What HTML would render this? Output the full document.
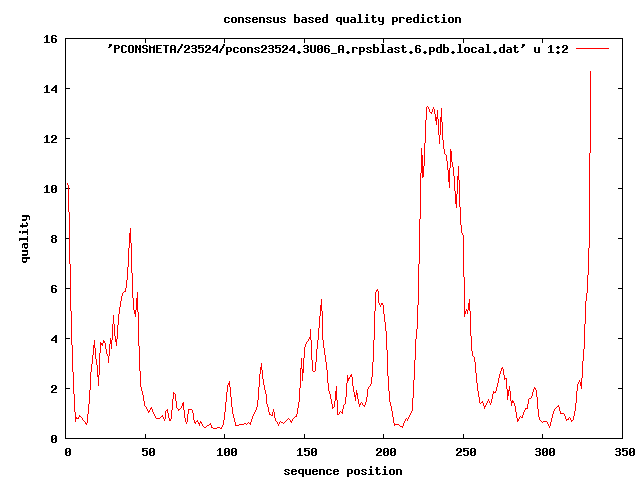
<!DOCTYPE html>
<html><head><meta charset="utf-8"><style>
html,body{margin:0;padding:0;background:#fff;width:640px;height:480px;overflow:hidden}
svg{display:block}
</style></head><body>
<svg width="640" height="480" viewBox="0 0 640 480" shape-rendering="crispEdges">
<rect width="640" height="480" fill="#fff"/>
<path fill="#000" d="M19 231h1v2h-1zM19 238h1v3h-1zM20 225h1v2h-1zM20 231h1v2h-1zM20 238h1v2h-1zM21 225h1v2h-1zM21 238h1v2h-1zM22 215h1v2h-1zM22 219h1v2h-1zM22 223h1v5h-1zM22 231h1v3h-1zM22 238h1v2h-1zM22 244h1v4h-1zM22 250h1v2h-1zM22 254h1v2h-1zM22 257h1v5h-1zM23 215h1v2h-1zM23 219h1v2h-1zM23 225h1v2h-1zM23 231h1v2h-1zM23 238h1v2h-1zM23 243h1v2h-1zM23 250h1v2h-1zM23 254h1v2h-1zM23 257h1v2h-1zM23 261h1v2h-1zM24 215h1v2h-1zM24 219h1v2h-1zM24 225h1v2h-1zM24 231h1v2h-1zM24 238h1v2h-1zM24 243h1v5h-1zM24 250h1v2h-1zM24 254h1v2h-1zM24 257h1v2h-1zM24 261h1v2h-1zM25 215h1v2h-1zM25 219h1v2h-1zM25 225h1v2h-1zM25 231h1v2h-1zM25 238h1v2h-1zM25 243h1v2h-1zM25 247h1v2h-1zM25 250h1v2h-1zM25 254h1v2h-1zM25 257h1v2h-1zM25 261h1v2h-1zM26 215h1v5h-1zM26 222h1v2h-1zM26 225h1v2h-1zM26 231h1v2h-1zM26 238h1v2h-1zM26 243h1v2h-1zM26 247h1v2h-1zM26 250h1v2h-1zM26 254h1v2h-1zM26 257h1v5h-1zM27 215h1v2h-1zM27 223h1v3h-1zM27 229h1v6h-1zM27 236h1v6h-1zM27 243h1v5h-1zM27 250h1v5h-1zM27 257h1v2h-1zM28 215h1v2h-1zM28 257h1v2h-1zM29 216h1v4h-1zM29 257h1v2h-1zM44 37h1v1h-1zM44 42h1v1h-1zM44 87h1v1h-1zM44 92h1v1h-1zM44 137h1v1h-1zM44 142h1v1h-1zM44 187h1v1h-1zM44 192h1v1h-1zM45 36h1v1h-1zM45 42h1v1h-1zM45 86h1v1h-1zM45 92h1v1h-1zM45 136h1v1h-1zM45 142h1v1h-1zM45 186h1v1h-1zM45 192h1v1h-1zM46 35h1v8h-1zM46 85h1v8h-1zM46 135h1v8h-1zM46 185h1v8h-1zM47 35h1v8h-1zM47 85h1v8h-1zM47 135h1v8h-1zM47 185h1v8h-1zM48 42h1v1h-1zM48 92h1v1h-1zM48 142h1v1h-1zM48 192h1v1h-1zM49 42h1v1h-1zM49 92h1v1h-1zM49 142h1v1h-1zM49 192h1v1h-1zM51 36h1v6h-1zM51 89h1v2h-1zM51 136h1v2h-1zM51 141h1v2h-1zM51 186h1v6h-1zM51 236h1v2h-1zM51 239h1v3h-1zM51 286h1v6h-1zM51 339h1v2h-1zM51 386h1v2h-1zM51 391h1v2h-1zM51 436h1v6h-1zM52 35h1v8h-1zM52 88h1v3h-1zM52 135h1v3h-1zM52 140h1v3h-1zM52 185h1v8h-1zM52 235h1v8h-1zM52 285h1v8h-1zM52 338h1v3h-1zM52 385h1v3h-1zM52 390h1v3h-1zM52 435h1v8h-1zM53 35h1v1h-1zM53 38h1v1h-1zM53 42h1v1h-1zM53 87h1v2h-1zM53 90h1v1h-1zM53 135h1v1h-1zM53 139h1v2h-1zM53 142h1v1h-1zM53 185h1v1h-1zM53 189h1v1h-1zM53 192h1v1h-1zM53 235h1v1h-1zM53 238h1v1h-1zM53 242h1v1h-1zM53 285h1v1h-1zM53 288h1v1h-1zM53 292h1v1h-1zM53 337h1v2h-1zM53 340h1v1h-1zM53 385h1v1h-1zM53 389h1v2h-1zM53 392h1v1h-1zM53 435h1v1h-1zM53 439h1v1h-1zM53 442h1v1h-1zM54 35h1v1h-1zM54 38h1v1h-1zM54 42h1v1h-1zM54 86h1v2h-1zM54 90h1v1h-1zM54 135h1v1h-1zM54 138h1v2h-1zM54 142h1v1h-1zM54 185h1v1h-1zM54 188h1v1h-1zM54 192h1v1h-1zM54 235h1v1h-1zM54 238h1v1h-1zM54 242h1v1h-1zM54 285h1v1h-1zM54 288h1v1h-1zM54 292h1v1h-1zM54 336h1v2h-1zM54 340h1v1h-1zM54 385h1v1h-1zM54 388h1v2h-1zM54 392h1v1h-1zM54 435h1v1h-1zM54 438h1v1h-1zM54 442h1v1h-1zM55 35h1v2h-1zM55 38h1v5h-1zM55 85h1v8h-1zM55 135h1v5h-1zM55 142h1v1h-1zM55 185h1v8h-1zM55 235h1v8h-1zM55 285h1v2h-1zM55 288h1v5h-1zM55 335h1v8h-1zM55 385h1v5h-1zM55 392h1v1h-1zM55 435h1v8h-1zM56 36h1v1h-1zM56 39h1v3h-1zM56 85h1v8h-1zM56 136h1v3h-1zM56 142h1v1h-1zM56 186h1v6h-1zM56 236h1v2h-1zM56 239h1v3h-1zM56 286h1v1h-1zM56 289h1v3h-1zM56 335h1v8h-1zM56 386h1v3h-1zM56 392h1v1h-1zM56 436h1v6h-1zM65 38h1v401h-1zM65 449h1v6h-1zM66 38h1v1h-1zM66 88h1v1h-1zM66 138h1v1h-1zM66 188h1v1h-1zM66 238h1v1h-1zM66 288h1v1h-1zM66 338h1v1h-1zM66 388h1v1h-1zM66 438h1v1h-1zM66 448h1v8h-1zM67 38h1v1h-1zM67 88h1v1h-1zM67 138h1v1h-1zM67 188h1v1h-1zM67 238h1v1h-1zM67 288h1v1h-1zM67 338h1v1h-1zM67 388h1v1h-1zM67 438h1v1h-1zM67 448h1v1h-1zM67 452h1v1h-1zM67 455h1v1h-1zM68 38h1v1h-1zM68 88h1v1h-1zM68 138h1v1h-1zM68 188h1v1h-1zM68 238h1v1h-1zM68 288h1v1h-1zM68 338h1v1h-1zM68 388h1v1h-1zM68 438h1v1h-1zM68 448h1v1h-1zM68 451h1v1h-1zM68 455h1v1h-1zM69 38h1v1h-1zM69 88h1v1h-1zM69 138h1v1h-1zM69 188h1v1h-1zM69 238h1v1h-1zM69 288h1v1h-1zM69 338h1v1h-1zM69 388h1v1h-1zM69 438h1v1h-1zM69 448h1v8h-1zM70 38h1v1h-1zM70 438h1v1h-1zM70 449h1v6h-1zM71 38h1v1h-1zM71 438h1v1h-1zM72 38h1v1h-1zM72 438h1v1h-1zM73 38h1v1h-1zM73 438h1v1h-1zM74 38h1v1h-1zM74 438h1v1h-1zM75 38h1v1h-1zM75 438h1v1h-1zM76 38h1v1h-1zM76 438h1v1h-1zM77 38h1v1h-1zM77 438h1v1h-1zM78 38h1v1h-1zM78 438h1v1h-1zM79 38h1v1h-1zM79 438h1v1h-1zM80 38h1v1h-1zM80 438h1v1h-1zM81 38h1v1h-1zM81 438h1v1h-1zM82 38h1v1h-1zM82 438h1v1h-1zM83 38h1v1h-1zM83 438h1v1h-1zM84 38h1v1h-1zM84 438h1v1h-1zM85 38h1v1h-1zM85 438h1v1h-1zM86 38h1v1h-1zM86 438h1v1h-1zM87 38h1v1h-1zM87 438h1v1h-1zM88 38h1v1h-1zM88 438h1v1h-1zM89 38h1v1h-1zM89 438h1v1h-1zM90 38h1v1h-1zM90 438h1v1h-1zM91 38h1v1h-1zM91 438h1v1h-1zM92 38h1v1h-1zM92 438h1v1h-1zM93 38h1v1h-1zM93 438h1v1h-1zM94 38h1v1h-1zM94 438h1v1h-1zM95 38h1v1h-1zM95 438h1v1h-1zM96 38h1v1h-1zM96 438h1v1h-1zM97 38h1v1h-1zM97 438h1v1h-1zM98 38h1v1h-1zM98 438h1v1h-1zM99 38h1v1h-1zM99 438h1v1h-1zM100 38h1v1h-1zM100 438h1v1h-1zM101 38h1v1h-1zM101 438h1v1h-1zM102 38h1v1h-1zM102 438h1v1h-1zM103 38h1v1h-1zM103 438h1v1h-1zM104 38h1v1h-1zM104 438h1v1h-1zM105 38h1v1h-1zM105 438h1v1h-1zM106 38h1v1h-1zM106 438h1v1h-1zM107 38h1v1h-1zM107 438h1v1h-1zM108 38h1v1h-1zM108 47h1v1h-1zM108 438h1v1h-1zM109 38h1v1h-1zM109 44h1v4h-1zM109 438h1v1h-1zM110 38h1v1h-1zM110 44h1v3h-1zM110 438h1v1h-1zM111 38h1v1h-1zM111 44h1v2h-1zM111 438h1v1h-1zM112 38h1v1h-1zM112 438h1v1h-1zM113 38h1v1h-1zM113 438h1v1h-1zM114 38h1v1h-1zM114 45h1v8h-1zM114 438h1v1h-1zM115 38h1v1h-1zM115 45h1v8h-1zM115 438h1v1h-1zM116 38h1v1h-1zM116 45h1v1h-1zM116 48h1v1h-1zM116 438h1v1h-1zM117 38h1v1h-1zM117 45h1v1h-1zM117 48h1v1h-1zM117 438h1v1h-1zM118 38h1v1h-1zM118 45h1v4h-1zM118 438h1v1h-1zM119 38h1v1h-1zM119 46h1v2h-1zM119 438h1v1h-1zM120 38h1v1h-1zM120 438h1v1h-1zM121 38h1v1h-1zM121 46h1v6h-1zM121 438h1v1h-1zM122 38h1v1h-1zM122 45h1v8h-1zM122 438h1v1h-1zM123 38h1v1h-1zM123 45h1v1h-1zM123 52h1v1h-1zM123 438h1v1h-1zM124 38h1v1h-1zM124 45h1v1h-1zM124 52h1v1h-1zM124 438h1v1h-1zM125 38h1v1h-1zM125 45h1v2h-1zM125 51h1v2h-1zM125 438h1v1h-1zM126 38h1v1h-1zM126 46h1v1h-1zM126 51h1v1h-1zM126 438h1v1h-1zM127 38h1v1h-1zM127 438h1v1h-1zM128 38h1v1h-1zM128 46h1v6h-1zM128 438h1v1h-1zM129 38h1v1h-1zM129 45h1v8h-1zM129 438h1v1h-1zM130 38h1v1h-1zM130 45h1v1h-1zM130 52h1v1h-1zM130 438h1v1h-1zM131 38h1v1h-1zM131 45h1v1h-1zM131 52h1v1h-1zM131 438h1v1h-1zM132 38h1v1h-1zM132 45h1v8h-1zM132 438h1v1h-1zM133 38h1v1h-1zM133 46h1v6h-1zM133 438h1v1h-1zM134 38h1v1h-1zM134 438h1v1h-1zM135 38h1v1h-1zM135 45h1v8h-1zM135 438h1v1h-1zM136 38h1v1h-1zM136 45h1v8h-1zM136 438h1v1h-1zM137 38h1v1h-1zM137 46h1v2h-1zM137 438h1v1h-1zM138 38h1v1h-1zM138 48h1v2h-1zM138 438h1v1h-1zM139 38h1v1h-1zM139 45h1v8h-1zM139 438h1v1h-1zM140 38h1v1h-1zM140 45h1v8h-1zM140 438h1v1h-1zM141 38h1v1h-1zM141 438h1v1h-1zM142 38h1v1h-1zM142 46h1v2h-1zM142 51h1v1h-1zM142 438h1v1h-1zM142 448h1v4h-1zM142 454h1v1h-1zM143 38h1v1h-1zM143 45h1v4h-1zM143 51h1v2h-1zM143 438h1v1h-1zM143 448h1v4h-1zM143 454h1v2h-1zM144 38h1v1h-1zM144 45h1v1h-1zM144 48h1v1h-1zM144 52h1v1h-1zM144 438h1v1h-1zM144 448h1v1h-1zM144 450h1v1h-1zM144 455h1v1h-1zM145 38h1v5h-1zM145 45h1v1h-1zM145 48h1v1h-1zM145 52h1v1h-1zM145 434h1v5h-1zM145 448h1v1h-1zM145 450h1v1h-1zM145 455h1v1h-1zM146 38h1v1h-1zM146 45h1v2h-1zM146 48h1v5h-1zM146 438h1v1h-1zM146 448h1v1h-1zM146 450h1v6h-1zM147 38h1v1h-1zM147 46h1v1h-1zM147 49h1v3h-1zM147 438h1v1h-1zM147 448h1v1h-1zM147 451h1v4h-1zM148 38h1v1h-1zM148 438h1v1h-1zM149 38h1v1h-1zM149 45h1v8h-1zM149 438h1v1h-1zM149 449h1v6h-1zM150 38h1v1h-1zM150 46h1v7h-1zM150 438h1v1h-1zM150 448h1v8h-1zM151 38h1v1h-1zM151 47h1v1h-1zM151 438h1v1h-1zM151 448h1v1h-1zM151 452h1v1h-1zM151 455h1v1h-1zM152 38h1v1h-1zM152 47h1v1h-1zM152 438h1v1h-1zM152 448h1v1h-1zM152 451h1v1h-1zM152 455h1v1h-1zM153 38h1v1h-1zM153 46h1v7h-1zM153 438h1v1h-1zM153 448h1v8h-1zM154 38h1v1h-1zM154 45h1v8h-1zM154 438h1v1h-1zM154 449h1v6h-1zM155 38h1v1h-1zM155 438h1v1h-1zM156 38h1v1h-1zM156 45h1v8h-1zM156 438h1v1h-1zM157 38h1v1h-1zM157 45h1v8h-1zM157 438h1v1h-1zM158 38h1v1h-1zM158 45h1v1h-1zM158 48h1v1h-1zM158 52h1v1h-1zM158 438h1v1h-1zM159 38h1v1h-1zM159 45h1v1h-1zM159 48h1v1h-1zM159 52h1v1h-1zM159 438h1v1h-1zM160 38h1v1h-1zM160 45h1v1h-1zM160 48h1v1h-1zM160 52h1v1h-1zM160 438h1v1h-1zM161 38h1v1h-1zM161 45h1v1h-1zM161 52h1v1h-1zM161 438h1v1h-1zM162 38h1v1h-1zM162 438h1v1h-1zM163 38h1v1h-1zM163 45h1v1h-1zM163 438h1v1h-1zM164 38h1v1h-1zM164 45h1v1h-1zM164 438h1v1h-1zM165 38h1v1h-1zM165 45h1v8h-1zM165 438h1v1h-1zM166 38h1v1h-1zM166 45h1v8h-1zM166 438h1v1h-1zM167 38h1v1h-1zM167 45h1v1h-1zM167 438h1v1h-1zM168 38h1v1h-1zM168 45h1v1h-1zM168 438h1v1h-1zM169 38h1v1h-1zM169 438h1v1h-1zM170 38h1v1h-1zM170 46h1v7h-1zM170 438h1v1h-1zM171 38h1v1h-1zM171 45h1v8h-1zM171 438h1v1h-1zM172 38h1v1h-1zM172 45h1v1h-1zM172 49h1v1h-1zM172 438h1v1h-1zM173 38h1v1h-1zM173 45h1v1h-1zM173 49h1v1h-1zM173 438h1v1h-1zM174 38h1v1h-1zM174 45h1v8h-1zM174 438h1v1h-1zM175 38h1v1h-1zM175 46h1v7h-1zM175 438h1v1h-1zM176 38h1v1h-1zM176 438h1v1h-1zM177 38h1v1h-1zM177 51h1v2h-1zM177 438h1v1h-1zM178 38h1v1h-1zM178 49h1v4h-1zM178 438h1v1h-1zM179 38h1v1h-1zM179 48h1v3h-1zM179 438h1v1h-1zM180 38h1v1h-1zM180 46h1v3h-1zM180 438h1v1h-1zM181 38h1v1h-1zM181 44h1v4h-1zM181 438h1v1h-1zM182 38h1v1h-1zM182 44h1v2h-1zM182 438h1v1h-1zM183 38h1v1h-1zM183 438h1v1h-1zM184 38h1v1h-1zM184 46h1v2h-1zM184 51h1v2h-1zM184 438h1v1h-1zM185 38h1v1h-1zM185 45h1v3h-1zM185 50h1v3h-1zM185 438h1v1h-1zM186 38h1v1h-1zM186 45h1v1h-1zM186 49h1v2h-1zM186 52h1v1h-1zM186 438h1v1h-1zM187 38h1v1h-1zM187 45h1v1h-1zM187 48h1v2h-1zM187 52h1v1h-1zM187 438h1v1h-1zM188 38h1v1h-1zM188 45h1v5h-1zM188 52h1v1h-1zM188 438h1v1h-1zM189 38h1v1h-1zM189 46h1v3h-1zM189 52h1v1h-1zM189 438h1v1h-1zM190 38h1v1h-1zM190 438h1v1h-1zM191 38h1v1h-1zM191 46h1v1h-1zM191 51h1v1h-1zM191 438h1v1h-1zM192 38h1v1h-1zM192 45h1v2h-1zM192 48h1v1h-1zM192 51h1v2h-1zM192 438h1v1h-1zM193 38h1v1h-1zM193 45h1v1h-1zM193 48h1v1h-1zM193 52h1v1h-1zM193 438h1v1h-1zM194 38h1v1h-1zM194 45h1v1h-1zM194 48h1v1h-1zM194 52h1v1h-1zM194 438h1v1h-1zM195 38h1v1h-1zM195 45h1v8h-1zM195 438h1v1h-1zM196 38h1v1h-1zM196 46h1v2h-1zM196 49h1v3h-1zM196 438h1v1h-1zM197 38h1v1h-1zM197 438h1v1h-1zM198 38h1v1h-1zM198 45h1v4h-1zM198 51h1v1h-1zM198 438h1v1h-1zM199 38h1v1h-1zM199 45h1v4h-1zM199 51h1v2h-1zM199 438h1v1h-1zM200 38h1v1h-1zM200 45h1v1h-1zM200 47h1v1h-1zM200 52h1v1h-1zM200 438h1v1h-1zM201 38h1v1h-1zM201 45h1v1h-1zM201 47h1v1h-1zM201 52h1v1h-1zM201 438h1v1h-1zM202 38h1v1h-1zM202 45h1v1h-1zM202 47h1v6h-1zM202 438h1v1h-1zM203 38h1v1h-1zM203 45h1v1h-1zM203 48h1v4h-1zM203 438h1v1h-1zM204 38h1v1h-1zM204 438h1v1h-1zM205 38h1v1h-1zM205 46h1v2h-1zM205 51h1v2h-1zM205 438h1v1h-1zM206 38h1v1h-1zM206 45h1v3h-1zM206 50h1v3h-1zM206 438h1v1h-1zM207 38h1v1h-1zM207 45h1v1h-1zM207 49h1v2h-1zM207 52h1v1h-1zM207 438h1v1h-1zM208 38h1v1h-1zM208 45h1v1h-1zM208 48h1v2h-1zM208 52h1v1h-1zM208 438h1v1h-1zM209 38h1v1h-1zM209 45h1v5h-1zM209 52h1v1h-1zM209 438h1v1h-1zM210 38h1v1h-1zM210 46h1v3h-1zM210 52h1v1h-1zM210 438h1v1h-1zM211 38h1v1h-1zM211 438h1v1h-1zM212 38h1v1h-1zM212 49h1v2h-1zM212 438h1v1h-1zM213 38h1v1h-1zM213 48h1v3h-1zM213 438h1v1h-1zM214 38h1v1h-1zM214 47h1v2h-1zM214 50h1v1h-1zM214 438h1v1h-1zM215 38h1v1h-1zM215 46h1v2h-1zM215 50h1v1h-1zM215 438h1v1h-1zM216 38h1v1h-1zM216 45h1v8h-1zM216 438h1v1h-1zM217 38h1v1h-1zM217 45h1v8h-1zM217 438h1v1h-1zM217 450h1v1h-1zM217 455h1v1h-1zM218 38h1v1h-1zM218 438h1v1h-1zM218 449h1v1h-1zM218 455h1v1h-1zM219 38h1v1h-1zM219 51h1v2h-1zM219 438h1v1h-1zM219 448h1v8h-1zM220 38h1v1h-1zM220 49h1v4h-1zM220 438h1v1h-1zM220 448h1v8h-1zM221 38h1v1h-1zM221 48h1v3h-1zM221 438h1v1h-1zM221 455h1v1h-1zM222 38h1v1h-1zM222 46h1v3h-1zM222 438h1v1h-1zM222 455h1v1h-1zM223 38h1v1h-1zM223 44h1v4h-1zM223 438h1v1h-1zM224 18h1v4h-1zM224 38h1v5h-1zM224 44h1v2h-1zM224 434h1v5h-1zM224 449h1v6h-1zM225 17h1v6h-1zM225 38h1v1h-1zM225 438h1v1h-1zM225 448h1v8h-1zM226 17h1v1h-1zM226 22h1v1h-1zM226 38h1v1h-1zM226 47h1v8h-1zM226 438h1v1h-1zM226 448h1v1h-1zM226 452h1v1h-1zM226 455h1v1h-1zM227 17h1v1h-1zM227 22h1v1h-1zM227 38h1v1h-1zM227 47h1v8h-1zM227 438h1v1h-1zM227 448h1v1h-1zM227 451h1v1h-1zM227 455h1v1h-1zM228 17h1v2h-1zM228 21h1v2h-1zM228 38h1v1h-1zM228 47h1v1h-1zM228 51h1v1h-1zM228 438h1v1h-1zM228 448h1v8h-1zM229 18h1v1h-1zM229 21h1v1h-1zM229 38h1v1h-1zM229 47h1v1h-1zM229 51h1v1h-1zM229 438h1v1h-1zM229 449h1v6h-1zM230 38h1v1h-1zM230 47h1v5h-1zM230 438h1v1h-1zM231 18h1v4h-1zM231 38h1v1h-1zM231 48h1v3h-1zM231 438h1v1h-1zM231 449h1v6h-1zM232 17h1v6h-1zM232 38h1v1h-1zM232 438h1v1h-1zM232 448h1v8h-1zM233 17h1v1h-1zM233 22h1v1h-1zM233 38h1v1h-1zM233 48h1v4h-1zM233 438h1v1h-1zM233 448h1v1h-1zM233 452h1v1h-1zM233 455h1v1h-1zM234 17h1v1h-1zM234 22h1v1h-1zM234 38h1v1h-1zM234 47h1v6h-1zM234 438h1v1h-1zM234 448h1v1h-1zM234 451h1v1h-1zM234 455h1v1h-1zM235 17h1v6h-1zM235 38h1v1h-1zM235 47h1v1h-1zM235 52h1v1h-1zM235 438h1v1h-1zM235 448h1v8h-1zM236 18h1v4h-1zM236 38h1v1h-1zM236 47h1v1h-1zM236 52h1v1h-1zM236 438h1v1h-1zM236 449h1v6h-1zM237 38h1v1h-1zM237 47h1v2h-1zM237 51h1v2h-1zM237 438h1v1h-1zM238 17h1v6h-1zM238 38h1v1h-1zM238 48h1v1h-1zM238 51h1v1h-1zM238 438h1v1h-1zM239 17h1v6h-1zM239 38h1v1h-1zM239 438h1v1h-1zM240 17h1v1h-1zM240 38h1v1h-1zM240 48h1v4h-1zM240 438h1v1h-1zM241 17h1v1h-1zM241 38h1v1h-1zM241 47h1v6h-1zM241 438h1v1h-1zM242 17h1v6h-1zM242 38h1v1h-1zM242 47h1v1h-1zM242 52h1v1h-1zM242 438h1v1h-1zM243 18h1v5h-1zM243 38h1v1h-1zM243 47h1v1h-1zM243 52h1v1h-1zM243 438h1v1h-1zM244 38h1v1h-1zM244 47h1v6h-1zM244 438h1v1h-1zM245 18h1v1h-1zM245 21h1v1h-1zM245 38h1v1h-1zM245 48h1v4h-1zM245 438h1v1h-1zM246 17h1v3h-1zM246 21h1v2h-1zM246 38h1v1h-1zM246 438h1v1h-1zM247 17h1v1h-1zM247 19h1v1h-1zM247 22h1v1h-1zM247 38h1v1h-1zM247 47h1v6h-1zM247 438h1v1h-1zM248 17h1v1h-1zM248 20h1v1h-1zM248 22h1v1h-1zM248 38h1v1h-1zM248 47h1v6h-1zM248 438h1v1h-1zM249 17h1v2h-1zM249 20h1v3h-1zM249 38h1v1h-1zM249 47h1v1h-1zM249 438h1v1h-1zM250 18h1v1h-1zM250 21h1v1h-1zM250 38h1v1h-1zM250 47h1v1h-1zM250 438h1v1h-1zM251 38h1v1h-1zM251 47h1v6h-1zM251 438h1v1h-1zM252 18h1v4h-1zM252 38h1v1h-1zM252 48h1v5h-1zM252 438h1v1h-1zM253 17h1v6h-1zM253 38h1v1h-1zM253 438h1v1h-1zM254 17h1v1h-1zM254 19h1v1h-1zM254 22h1v1h-1zM254 38h1v1h-1zM254 48h1v1h-1zM254 51h1v1h-1zM254 438h1v1h-1zM255 17h1v1h-1zM255 19h1v1h-1zM255 22h1v1h-1zM255 38h1v1h-1zM255 47h1v3h-1zM255 51h1v2h-1zM255 438h1v1h-1zM256 17h1v3h-1zM256 21h1v2h-1zM256 38h1v1h-1zM256 47h1v1h-1zM256 49h1v1h-1zM256 52h1v1h-1zM256 438h1v1h-1zM257 18h1v2h-1zM257 21h1v1h-1zM257 38h1v1h-1zM257 47h1v1h-1zM257 50h1v1h-1zM257 52h1v1h-1zM257 438h1v1h-1zM258 38h1v1h-1zM258 47h1v2h-1zM258 50h1v3h-1zM258 438h1v1h-1zM259 17h1v6h-1zM259 38h1v1h-1zM259 48h1v1h-1zM259 51h1v1h-1zM259 438h1v1h-1zM260 17h1v6h-1zM260 38h1v1h-1zM260 438h1v1h-1zM261 17h1v1h-1zM261 38h1v1h-1zM261 46h1v2h-1zM261 51h1v2h-1zM261 438h1v1h-1zM262 17h1v1h-1zM262 38h1v1h-1zM262 45h1v3h-1zM262 50h1v3h-1zM262 438h1v1h-1zM263 17h1v6h-1zM263 38h1v1h-1zM263 45h1v1h-1zM263 49h1v2h-1zM263 52h1v1h-1zM263 438h1v1h-1zM264 18h1v5h-1zM264 38h1v1h-1zM264 45h1v1h-1zM264 48h1v2h-1zM264 52h1v1h-1zM264 438h1v1h-1zM265 38h1v1h-1zM265 45h1v5h-1zM265 52h1v1h-1zM265 438h1v1h-1zM266 18h1v1h-1zM266 21h1v1h-1zM266 38h1v1h-1zM266 46h1v3h-1zM266 52h1v1h-1zM266 438h1v1h-1zM267 17h1v3h-1zM267 21h1v2h-1zM267 38h1v1h-1zM267 438h1v1h-1zM268 17h1v1h-1zM268 19h1v1h-1zM268 22h1v1h-1zM268 38h1v1h-1zM268 46h1v1h-1zM268 51h1v1h-1zM268 438h1v1h-1zM269 17h1v1h-1zM269 20h1v1h-1zM269 22h1v1h-1zM269 38h1v1h-1zM269 45h1v2h-1zM269 48h1v1h-1zM269 51h1v2h-1zM269 438h1v1h-1zM270 17h1v2h-1zM270 20h1v3h-1zM270 38h1v1h-1zM270 45h1v1h-1zM270 48h1v1h-1zM270 52h1v1h-1zM270 438h1v1h-1zM271 18h1v1h-1zM271 21h1v1h-1zM271 38h1v1h-1zM271 45h1v1h-1zM271 48h1v1h-1zM271 52h1v1h-1zM271 438h1v1h-1zM272 38h1v1h-1zM272 45h1v8h-1zM272 438h1v1h-1zM273 17h1v5h-1zM273 38h1v1h-1zM273 46h1v2h-1zM273 49h1v3h-1zM273 438h1v1h-1zM274 17h1v6h-1zM274 38h1v1h-1zM274 438h1v1h-1zM275 22h1v1h-1zM275 38h1v1h-1zM275 45h1v4h-1zM275 51h1v1h-1zM275 438h1v1h-1zM276 22h1v1h-1zM276 38h1v1h-1zM276 45h1v4h-1zM276 51h1v2h-1zM276 438h1v1h-1zM277 17h1v6h-1zM277 38h1v1h-1zM277 45h1v1h-1zM277 47h1v1h-1zM277 52h1v1h-1zM277 438h1v1h-1zM278 17h1v6h-1zM278 38h1v1h-1zM278 45h1v1h-1zM278 47h1v1h-1zM278 52h1v1h-1zM278 438h1v1h-1zM279 38h1v1h-1zM279 45h1v1h-1zM279 47h1v6h-1zM279 438h1v1h-1zM280 18h1v1h-1zM280 21h1v1h-1zM280 38h1v1h-1zM280 45h1v1h-1zM280 48h1v4h-1zM280 438h1v1h-1zM281 17h1v3h-1zM281 21h1v2h-1zM281 38h1v1h-1zM281 438h1v1h-1zM282 17h1v1h-1zM282 19h1v1h-1zM282 22h1v1h-1zM282 38h1v1h-1zM282 46h1v2h-1zM282 51h1v2h-1zM282 438h1v1h-1zM283 17h1v1h-1zM283 20h1v1h-1zM283 22h1v1h-1zM283 38h1v1h-1zM283 45h1v3h-1zM283 50h1v3h-1zM283 438h1v1h-1zM284 17h1v2h-1zM284 20h1v3h-1zM284 38h1v1h-1zM284 45h1v1h-1zM284 49h1v2h-1zM284 52h1v1h-1zM284 438h1v1h-1zM284 470h1v1h-1zM284 473h1v1h-1zM285 18h1v1h-1zM285 21h1v1h-1zM285 38h1v1h-1zM285 45h1v1h-1zM285 48h1v2h-1zM285 52h1v1h-1zM285 438h1v1h-1zM285 469h1v3h-1zM285 473h1v2h-1zM286 38h1v1h-1zM286 45h1v5h-1zM286 52h1v1h-1zM286 438h1v1h-1zM286 469h1v1h-1zM286 471h1v1h-1zM286 474h1v1h-1zM287 38h1v1h-1zM287 46h1v3h-1zM287 52h1v1h-1zM287 438h1v1h-1zM287 469h1v1h-1zM287 472h1v1h-1zM287 474h1v1h-1zM288 38h1v1h-1zM288 438h1v1h-1zM288 469h1v2h-1zM288 472h1v3h-1zM289 38h1v1h-1zM289 49h1v2h-1zM289 438h1v1h-1zM289 470h1v1h-1zM289 473h1v1h-1zM290 38h1v1h-1zM290 48h1v3h-1zM290 438h1v1h-1zM291 38h1v1h-1zM291 47h1v2h-1zM291 50h1v1h-1zM291 438h1v1h-1zM291 470h1v4h-1zM292 38h1v1h-1zM292 46h1v2h-1zM292 50h1v1h-1zM292 438h1v1h-1zM292 469h1v6h-1zM293 38h1v1h-1zM293 45h1v8h-1zM293 438h1v1h-1zM293 469h1v1h-1zM293 471h1v1h-1zM293 474h1v1h-1zM294 14h1v9h-1zM294 38h1v1h-1zM294 45h1v8h-1zM294 438h1v1h-1zM294 469h1v1h-1zM294 471h1v1h-1zM294 474h1v1h-1zM295 14h1v9h-1zM295 38h1v1h-1zM295 438h1v1h-1zM295 469h1v3h-1zM295 473h1v2h-1zM296 17h1v1h-1zM296 22h1v1h-1zM296 38h1v1h-1zM296 438h1v1h-1zM296 470h1v2h-1zM296 473h1v1h-1zM297 17h1v1h-1zM297 22h1v1h-1zM297 38h1v1h-1zM297 52h1v1h-1zM297 438h1v1h-1zM297 450h1v1h-1zM297 455h1v1h-1zM298 17h1v6h-1zM298 38h1v1h-1zM298 51h1v3h-1zM298 438h1v1h-1zM298 449h1v1h-1zM298 455h1v1h-1zM298 470h1v3h-1zM299 18h1v4h-1zM299 38h1v1h-1zM299 51h1v3h-1zM299 438h1v1h-1zM299 448h1v8h-1zM299 469h1v5h-1zM300 38h1v1h-1zM300 52h1v1h-1zM300 438h1v1h-1zM300 448h1v8h-1zM300 469h1v1h-1zM300 473h1v1h-1zM301 20h1v2h-1zM301 38h1v1h-1zM301 438h1v1h-1zM301 455h1v1h-1zM301 469h1v1h-1zM301 473h1v1h-1zM302 17h1v1h-1zM302 19h1v4h-1zM302 38h1v1h-1zM302 438h1v1h-1zM302 455h1v1h-1zM302 469h1v8h-1zM303 17h1v1h-1zM303 19h1v1h-1zM303 22h1v1h-1zM303 38h1v1h-1zM303 46h1v1h-1zM303 51h1v1h-1zM303 438h1v1h-1zM303 469h1v8h-1zM304 17h1v1h-1zM304 19h1v1h-1zM304 22h1v1h-1zM304 38h1v5h-1zM304 45h1v2h-1zM304 48h1v1h-1zM304 51h1v2h-1zM304 434h1v5h-1zM304 448h1v4h-1zM304 454h1v1h-1zM305 17h1v6h-1zM305 38h1v1h-1zM305 45h1v1h-1zM305 48h1v1h-1zM305 52h1v1h-1zM305 438h1v1h-1zM305 448h1v4h-1zM305 454h1v2h-1zM305 469h1v5h-1zM306 18h1v5h-1zM306 38h1v1h-1zM306 45h1v1h-1zM306 48h1v1h-1zM306 52h1v1h-1zM306 438h1v1h-1zM306 448h1v1h-1zM306 450h1v1h-1zM306 455h1v1h-1zM306 469h1v6h-1zM307 38h1v1h-1zM307 45h1v8h-1zM307 438h1v1h-1zM307 448h1v1h-1zM307 450h1v1h-1zM307 455h1v1h-1zM307 474h1v1h-1zM308 18h1v1h-1zM308 21h1v1h-1zM308 38h1v1h-1zM308 46h1v2h-1zM308 49h1v3h-1zM308 438h1v1h-1zM308 448h1v1h-1zM308 450h1v6h-1zM308 474h1v1h-1zM309 17h1v3h-1zM309 21h1v2h-1zM309 38h1v1h-1zM309 438h1v1h-1zM309 448h1v1h-1zM309 451h1v4h-1zM309 469h1v6h-1zM310 17h1v1h-1zM310 19h1v1h-1zM310 22h1v1h-1zM310 38h1v1h-1zM310 45h1v7h-1zM310 438h1v1h-1zM310 469h1v6h-1zM311 17h1v1h-1zM311 20h1v1h-1zM311 22h1v1h-1zM311 38h1v1h-1zM311 45h1v8h-1zM311 438h1v1h-1zM311 449h1v6h-1zM312 17h1v2h-1zM312 20h1v3h-1zM312 38h1v1h-1zM312 52h1v1h-1zM312 438h1v1h-1zM312 448h1v8h-1zM312 470h1v4h-1zM313 18h1v1h-1zM313 21h1v1h-1zM313 38h1v1h-1zM313 52h1v1h-1zM313 438h1v1h-1zM313 448h1v1h-1zM313 452h1v1h-1zM313 455h1v1h-1zM313 469h1v6h-1zM314 38h1v1h-1zM314 45h1v8h-1zM314 438h1v1h-1zM314 448h1v1h-1zM314 451h1v1h-1zM314 455h1v1h-1zM314 469h1v1h-1zM314 471h1v1h-1zM314 474h1v1h-1zM315 18h1v4h-1zM315 38h1v1h-1zM315 45h1v7h-1zM315 438h1v1h-1zM315 448h1v8h-1zM315 469h1v1h-1zM315 471h1v1h-1zM315 474h1v1h-1zM316 17h1v6h-1zM316 38h1v1h-1zM316 438h1v1h-1zM316 449h1v6h-1zM316 469h1v3h-1zM316 473h1v2h-1zM317 17h1v1h-1zM317 19h1v1h-1zM317 22h1v1h-1zM317 38h1v1h-1zM317 46h1v6h-1zM317 438h1v1h-1zM317 470h1v2h-1zM317 473h1v1h-1zM318 17h1v1h-1zM318 19h1v1h-1zM318 22h1v1h-1zM318 38h1v1h-1zM318 45h1v8h-1zM318 438h1v1h-1zM319 17h1v3h-1zM319 21h1v2h-1zM319 38h1v1h-1zM319 45h1v1h-1zM319 49h1v1h-1zM319 52h1v1h-1zM319 438h1v1h-1zM319 469h1v6h-1zM320 18h1v2h-1zM320 21h1v1h-1zM320 38h1v1h-1zM320 45h1v1h-1zM320 48h1v1h-1zM320 52h1v1h-1zM320 438h1v1h-1zM320 469h1v6h-1zM321 38h1v1h-1zM321 45h1v8h-1zM321 438h1v1h-1zM321 469h1v1h-1zM322 18h1v4h-1zM322 38h1v1h-1zM322 46h1v6h-1zM322 438h1v1h-1zM322 469h1v1h-1zM323 17h1v6h-1zM323 38h1v1h-1zM323 438h1v1h-1zM323 469h1v6h-1zM324 17h1v1h-1zM324 22h1v1h-1zM324 38h1v1h-1zM324 46h1v6h-1zM324 438h1v1h-1zM324 470h1v5h-1zM325 17h1v1h-1zM325 22h1v1h-1zM325 38h1v1h-1zM325 45h1v8h-1zM325 438h1v1h-1zM326 14h1v9h-1zM326 38h1v1h-1zM326 45h1v1h-1zM326 48h1v1h-1zM326 52h1v1h-1zM326 438h1v1h-1zM326 470h1v4h-1zM327 14h1v9h-1zM327 38h1v1h-1zM327 45h1v1h-1zM327 48h1v1h-1zM327 52h1v1h-1zM327 438h1v1h-1zM327 469h1v6h-1zM328 38h1v1h-1zM328 45h1v2h-1zM328 48h1v5h-1zM328 438h1v1h-1zM328 469h1v1h-1zM328 474h1v1h-1zM329 38h1v1h-1zM329 46h1v1h-1zM329 49h1v3h-1zM329 438h1v1h-1zM329 469h1v1h-1zM329 474h1v1h-1zM330 38h1v1h-1zM330 438h1v1h-1zM330 469h1v2h-1zM330 473h1v2h-1zM331 38h1v1h-1zM331 53h1v1h-1zM331 438h1v1h-1zM331 470h1v1h-1zM331 473h1v1h-1zM332 38h1v1h-1zM332 53h1v1h-1zM332 438h1v1h-1zM333 38h1v1h-1zM333 53h1v1h-1zM333 438h1v1h-1zM333 470h1v4h-1zM334 38h1v1h-1zM334 53h1v1h-1zM334 438h1v1h-1zM334 469h1v6h-1zM335 38h1v1h-1zM335 53h1v1h-1zM335 438h1v1h-1zM335 469h1v1h-1zM335 471h1v1h-1zM335 474h1v1h-1zM336 18h1v3h-1zM336 38h1v1h-1zM336 53h1v1h-1zM336 438h1v1h-1zM336 469h1v1h-1zM336 471h1v1h-1zM336 474h1v1h-1zM337 17h1v5h-1zM337 38h1v1h-1zM337 438h1v1h-1zM337 469h1v3h-1zM337 473h1v2h-1zM338 17h1v1h-1zM338 21h1v1h-1zM338 38h1v1h-1zM338 46h1v7h-1zM338 438h1v1h-1zM338 470h1v2h-1zM338 473h1v1h-1zM339 17h1v1h-1zM339 21h1v1h-1zM339 38h1v1h-1zM339 45h1v8h-1zM339 438h1v1h-1zM340 17h1v8h-1zM340 38h1v1h-1zM340 45h1v1h-1zM340 49h1v1h-1zM340 438h1v1h-1zM341 17h1v8h-1zM341 38h1v1h-1zM341 45h1v1h-1zM341 49h1v1h-1zM341 438h1v1h-1zM342 38h1v1h-1zM342 45h1v8h-1zM342 438h1v1h-1zM343 17h1v5h-1zM343 38h1v1h-1zM343 46h1v7h-1zM343 438h1v1h-1zM344 17h1v6h-1zM344 38h1v1h-1zM344 438h1v1h-1zM345 22h1v1h-1zM345 38h1v1h-1zM345 438h1v1h-1zM346 22h1v1h-1zM346 38h1v1h-1zM346 52h1v1h-1zM346 438h1v1h-1zM347 17h1v6h-1zM347 38h1v1h-1zM347 51h1v3h-1zM347 438h1v1h-1zM347 469h1v8h-1zM348 17h1v6h-1zM348 38h1v1h-1zM348 51h1v3h-1zM348 438h1v1h-1zM348 469h1v8h-1zM349 38h1v1h-1zM349 52h1v1h-1zM349 438h1v1h-1zM349 469h1v1h-1zM349 473h1v1h-1zM350 20h1v2h-1zM350 38h1v1h-1zM350 438h1v1h-1zM350 469h1v1h-1zM350 473h1v1h-1zM351 17h1v1h-1zM351 19h1v4h-1zM351 38h1v1h-1zM351 438h1v1h-1zM351 469h1v5h-1zM352 17h1v1h-1zM352 19h1v1h-1zM352 22h1v1h-1zM352 38h1v1h-1zM352 47h1v6h-1zM352 438h1v1h-1zM352 470h1v3h-1zM353 17h1v1h-1zM353 19h1v1h-1zM353 22h1v1h-1zM353 38h1v1h-1zM353 47h1v6h-1zM353 438h1v1h-1zM354 17h1v6h-1zM354 38h1v1h-1zM354 47h1v1h-1zM354 438h1v1h-1zM354 470h1v4h-1zM355 18h1v5h-1zM355 38h1v1h-1zM355 47h1v1h-1zM355 438h1v1h-1zM355 469h1v6h-1zM356 38h1v1h-1zM356 47h1v2h-1zM356 438h1v1h-1zM356 469h1v1h-1zM356 474h1v1h-1zM357 22h1v1h-1zM357 38h1v1h-1zM357 48h1v1h-1zM357 438h1v1h-1zM357 469h1v1h-1zM357 474h1v1h-1zM358 14h1v1h-1zM358 22h1v1h-1zM358 38h1v1h-1zM358 438h1v1h-1zM358 469h1v6h-1zM359 14h1v9h-1zM359 38h1v1h-1zM359 47h1v8h-1zM359 438h1v1h-1zM359 470h1v4h-1zM360 14h1v9h-1zM360 38h1v1h-1zM360 47h1v8h-1zM360 438h1v1h-1zM361 22h1v1h-1zM361 38h1v1h-1zM361 47h1v1h-1zM361 51h1v1h-1zM361 438h1v1h-1zM361 470h1v1h-1zM361 473h1v1h-1zM362 22h1v1h-1zM362 38h1v1h-1zM362 47h1v1h-1zM362 51h1v1h-1zM362 438h1v1h-1zM362 469h1v3h-1zM362 473h1v2h-1zM363 38h1v1h-1zM363 47h1v5h-1zM363 438h1v1h-1zM363 469h1v1h-1zM363 471h1v1h-1zM363 474h1v1h-1zM364 22h1v1h-1zM364 38h1v1h-1zM364 48h1v3h-1zM364 438h1v1h-1zM364 469h1v1h-1zM364 472h1v1h-1zM364 474h1v1h-1zM365 17h1v1h-1zM365 22h1v1h-1zM365 38h1v1h-1zM365 438h1v1h-1zM365 469h1v2h-1zM365 472h1v3h-1zM366 14h1v2h-1zM366 17h1v6h-1zM366 38h1v1h-1zM366 48h1v1h-1zM366 51h1v1h-1zM366 438h1v1h-1zM366 470h1v1h-1zM366 473h1v1h-1zM367 14h1v2h-1zM367 17h1v6h-1zM367 38h1v1h-1zM367 47h1v3h-1zM367 51h1v2h-1zM367 438h1v1h-1zM368 22h1v1h-1zM368 38h1v1h-1zM368 47h1v1h-1zM368 49h1v1h-1zM368 52h1v1h-1zM368 438h1v1h-1zM368 474h1v1h-1zM369 22h1v1h-1zM369 38h1v1h-1zM369 47h1v1h-1zM369 50h1v1h-1zM369 52h1v1h-1zM369 438h1v1h-1zM369 469h1v1h-1zM369 474h1v1h-1zM370 38h1v1h-1zM370 47h1v2h-1zM370 50h1v3h-1zM370 438h1v1h-1zM370 466h1v2h-1zM370 469h1v6h-1zM371 17h1v1h-1zM371 38h1v1h-1zM371 48h1v1h-1zM371 51h1v1h-1zM371 438h1v1h-1zM371 466h1v2h-1zM371 469h1v6h-1zM372 15h1v7h-1zM372 38h1v1h-1zM372 438h1v1h-1zM372 474h1v1h-1zM373 15h1v8h-1zM373 38h1v1h-1zM373 44h1v9h-1zM373 438h1v1h-1zM373 474h1v1h-1zM374 17h1v1h-1zM374 22h1v1h-1zM374 38h1v1h-1zM374 44h1v9h-1zM374 438h1v1h-1zM375 17h1v1h-1zM375 21h1v2h-1zM375 38h1v1h-1zM375 47h1v1h-1zM375 52h1v1h-1zM375 438h1v1h-1zM375 469h1v1h-1zM376 21h1v1h-1zM376 38h1v1h-1zM376 47h1v1h-1zM376 52h1v1h-1zM376 438h1v1h-1zM376 449h1v2h-1zM376 454h1v2h-1zM376 467h1v7h-1zM377 38h1v1h-1zM377 47h1v6h-1zM377 438h1v1h-1zM377 448h1v3h-1zM377 453h1v3h-1zM377 467h1v8h-1zM378 17h1v4h-1zM378 38h1v1h-1zM378 48h1v4h-1zM378 438h1v1h-1zM378 448h1v1h-1zM378 452h1v2h-1zM378 455h1v1h-1zM378 469h1v1h-1zM378 474h1v1h-1zM379 17h1v5h-1zM379 24h1v1h-1zM379 38h1v1h-1zM379 438h1v1h-1zM379 448h1v1h-1zM379 451h1v2h-1zM379 455h1v1h-1zM379 469h1v1h-1zM379 473h1v2h-1zM380 21h1v1h-1zM380 24h1v1h-1zM380 38h1v1h-1zM380 52h1v1h-1zM380 438h1v1h-1zM380 448h1v5h-1zM380 455h1v1h-1zM380 473h1v1h-1zM381 21h1v1h-1zM381 24h1v1h-1zM381 38h1v1h-1zM381 44h1v1h-1zM381 52h1v1h-1zM381 438h1v1h-1zM381 449h1v3h-1zM381 455h1v1h-1zM382 17h1v8h-1zM382 38h1v1h-1zM382 44h1v9h-1zM382 438h1v1h-1zM382 474h1v1h-1zM383 17h1v7h-1zM383 38h1v5h-1zM383 44h1v9h-1zM383 434h1v5h-1zM383 449h1v6h-1zM383 469h1v1h-1zM383 474h1v1h-1zM384 38h1v1h-1zM384 52h1v1h-1zM384 438h1v1h-1zM384 448h1v8h-1zM384 466h1v2h-1zM384 469h1v6h-1zM385 38h1v1h-1zM385 52h1v1h-1zM385 438h1v1h-1zM385 448h1v1h-1zM385 452h1v1h-1zM385 455h1v1h-1zM385 466h1v2h-1zM385 469h1v6h-1zM386 38h1v1h-1zM386 438h1v1h-1zM386 448h1v1h-1zM386 451h1v1h-1zM386 455h1v1h-1zM386 474h1v1h-1zM387 38h1v1h-1zM387 50h1v2h-1zM387 438h1v1h-1zM387 448h1v8h-1zM387 474h1v1h-1zM388 38h1v1h-1zM388 47h1v1h-1zM388 49h1v4h-1zM388 438h1v1h-1zM388 449h1v6h-1zM389 38h1v1h-1zM389 47h1v1h-1zM389 49h1v1h-1zM389 52h1v1h-1zM389 438h1v1h-1zM389 470h1v4h-1zM390 38h1v1h-1zM390 47h1v1h-1zM390 49h1v1h-1zM390 52h1v1h-1zM390 438h1v1h-1zM390 449h1v6h-1zM390 469h1v6h-1zM391 38h1v1h-1zM391 47h1v6h-1zM391 438h1v1h-1zM391 448h1v8h-1zM391 469h1v1h-1zM391 474h1v1h-1zM392 17h1v8h-1zM392 38h1v1h-1zM392 48h1v5h-1zM392 438h1v1h-1zM392 448h1v1h-1zM392 452h1v1h-1zM392 455h1v1h-1zM392 469h1v1h-1zM392 474h1v1h-1zM393 17h1v8h-1zM393 38h1v1h-1zM393 438h1v1h-1zM393 448h1v1h-1zM393 451h1v1h-1zM393 455h1v1h-1zM393 469h1v6h-1zM394 17h1v1h-1zM394 21h1v1h-1zM394 38h1v1h-1zM394 48h1v1h-1zM394 51h1v1h-1zM394 438h1v1h-1zM394 448h1v8h-1zM394 470h1v4h-1zM395 17h1v1h-1zM395 21h1v1h-1zM395 38h1v1h-1zM395 47h1v3h-1zM395 51h1v2h-1zM395 438h1v1h-1zM395 449h1v6h-1zM396 17h1v5h-1zM396 38h1v1h-1zM396 47h1v1h-1zM396 49h1v1h-1zM396 52h1v1h-1zM396 438h1v1h-1zM396 469h1v6h-1zM397 18h1v3h-1zM397 38h1v1h-1zM397 47h1v1h-1zM397 50h1v1h-1zM397 52h1v1h-1zM397 438h1v1h-1zM397 469h1v6h-1zM398 38h1v1h-1zM398 47h1v2h-1zM398 50h1v3h-1zM398 438h1v1h-1zM398 469h1v1h-1zM399 17h1v6h-1zM399 38h1v1h-1zM399 48h1v1h-1zM399 51h1v1h-1zM399 438h1v1h-1zM399 469h1v1h-1zM400 17h1v6h-1zM400 38h1v1h-1zM400 438h1v1h-1zM400 469h1v6h-1zM401 17h1v1h-1zM401 38h1v1h-1zM401 47h1v1h-1zM401 438h1v1h-1zM401 470h1v5h-1zM402 17h1v1h-1zM402 38h1v1h-1zM402 45h1v7h-1zM402 438h1v1h-1zM403 17h1v2h-1zM403 38h1v1h-1zM403 45h1v8h-1zM403 438h1v1h-1zM404 18h1v1h-1zM404 38h1v1h-1zM404 47h1v1h-1zM404 52h1v1h-1zM404 438h1v1h-1zM405 38h1v1h-1zM405 47h1v1h-1zM405 51h1v2h-1zM405 438h1v1h-1zM406 18h1v4h-1zM406 38h1v1h-1zM406 51h1v1h-1zM406 438h1v1h-1zM407 17h1v6h-1zM407 38h1v1h-1zM407 438h1v1h-1zM408 17h1v1h-1zM408 19h1v1h-1zM408 22h1v1h-1zM408 38h1v1h-1zM408 438h1v1h-1zM409 17h1v1h-1zM409 19h1v1h-1zM409 22h1v1h-1zM409 38h1v1h-1zM409 52h1v1h-1zM409 438h1v1h-1zM410 17h1v3h-1zM410 21h1v2h-1zM410 38h1v1h-1zM410 51h1v3h-1zM410 438h1v1h-1zM411 18h1v2h-1zM411 21h1v1h-1zM411 38h1v1h-1zM411 51h1v3h-1zM411 438h1v1h-1zM412 38h1v1h-1zM412 52h1v1h-1zM412 438h1v1h-1zM413 18h1v4h-1zM413 38h1v1h-1zM413 438h1v1h-1zM414 17h1v6h-1zM414 38h1v1h-1zM414 438h1v1h-1zM415 17h1v1h-1zM415 22h1v1h-1zM415 38h1v1h-1zM415 46h1v6h-1zM415 438h1v1h-1zM416 17h1v1h-1zM416 22h1v1h-1zM416 38h1v1h-1zM416 45h1v8h-1zM416 438h1v1h-1zM417 14h1v9h-1zM417 38h1v1h-1zM417 45h1v1h-1zM417 48h1v1h-1zM417 52h1v1h-1zM417 438h1v1h-1zM418 14h1v9h-1zM418 38h1v1h-1zM418 45h1v1h-1zM418 48h1v1h-1zM418 52h1v1h-1zM418 438h1v1h-1zM419 38h1v1h-1zM419 45h1v2h-1zM419 48h1v5h-1zM419 438h1v1h-1zM420 22h1v1h-1zM420 38h1v1h-1zM420 46h1v1h-1zM420 49h1v3h-1zM420 438h1v1h-1zM421 17h1v1h-1zM421 22h1v1h-1zM421 38h1v1h-1zM421 438h1v1h-1zM422 14h1v2h-1zM422 17h1v6h-1zM422 38h1v1h-1zM422 438h1v1h-1zM423 14h1v2h-1zM423 17h1v6h-1zM423 38h1v1h-1zM423 52h1v1h-1zM423 438h1v1h-1zM424 22h1v1h-1zM424 38h1v1h-1zM424 51h1v3h-1zM424 438h1v1h-1zM425 22h1v1h-1zM425 38h1v1h-1zM425 51h1v3h-1zM425 438h1v1h-1zM426 38h1v1h-1zM426 52h1v1h-1zM426 438h1v1h-1zM427 18h1v4h-1zM427 38h1v1h-1zM427 438h1v1h-1zM428 17h1v6h-1zM428 38h1v1h-1zM428 438h1v1h-1zM429 17h1v1h-1zM429 22h1v1h-1zM429 38h1v1h-1zM429 47h1v8h-1zM429 438h1v1h-1zM430 17h1v1h-1zM430 22h1v1h-1zM430 38h1v1h-1zM430 47h1v8h-1zM430 438h1v1h-1zM431 17h1v2h-1zM431 21h1v2h-1zM431 38h1v1h-1zM431 47h1v1h-1zM431 51h1v1h-1zM431 438h1v1h-1zM432 18h1v1h-1zM432 21h1v1h-1zM432 38h1v1h-1zM432 47h1v1h-1zM432 51h1v1h-1zM432 438h1v1h-1zM433 38h1v1h-1zM433 47h1v5h-1zM433 438h1v1h-1zM434 17h1v1h-1zM434 38h1v1h-1zM434 48h1v3h-1zM434 438h1v1h-1zM435 15h1v7h-1zM435 38h1v1h-1zM435 438h1v1h-1zM436 15h1v8h-1zM436 38h1v1h-1zM436 48h1v4h-1zM436 438h1v1h-1zM437 17h1v1h-1zM437 22h1v1h-1zM437 38h1v1h-1zM437 47h1v6h-1zM437 438h1v1h-1zM438 17h1v1h-1zM438 21h1v2h-1zM438 38h1v1h-1zM438 47h1v1h-1zM438 52h1v1h-1zM438 438h1v1h-1zM439 21h1v1h-1zM439 38h1v1h-1zM439 47h1v1h-1zM439 52h1v1h-1zM439 438h1v1h-1zM440 38h1v1h-1zM440 44h1v9h-1zM440 438h1v1h-1zM441 22h1v1h-1zM441 38h1v1h-1zM441 44h1v9h-1zM441 438h1v1h-1zM442 17h1v1h-1zM442 22h1v1h-1zM442 38h1v1h-1zM442 438h1v1h-1zM443 14h1v2h-1zM443 17h1v6h-1zM443 38h1v1h-1zM443 44h1v9h-1zM443 438h1v1h-1zM444 14h1v2h-1zM444 17h1v6h-1zM444 38h1v1h-1zM444 44h1v9h-1zM444 438h1v1h-1zM445 22h1v1h-1zM445 38h1v1h-1zM445 47h1v1h-1zM445 52h1v1h-1zM445 438h1v1h-1zM446 22h1v1h-1zM446 38h1v1h-1zM446 47h1v1h-1zM446 52h1v1h-1zM446 438h1v1h-1zM447 38h1v1h-1zM447 47h1v6h-1zM447 438h1v1h-1zM448 18h1v4h-1zM448 38h1v1h-1zM448 48h1v4h-1zM448 438h1v1h-1zM449 17h1v6h-1zM449 38h1v1h-1zM449 438h1v1h-1zM450 17h1v1h-1zM450 22h1v1h-1zM450 38h1v1h-1zM450 438h1v1h-1zM451 17h1v1h-1zM451 22h1v1h-1zM451 38h1v1h-1zM451 52h1v1h-1zM451 438h1v1h-1zM452 17h1v6h-1zM452 38h1v1h-1zM452 51h1v3h-1zM452 438h1v1h-1zM453 18h1v4h-1zM453 38h1v1h-1zM453 51h1v3h-1zM453 438h1v1h-1zM454 38h1v1h-1zM454 52h1v1h-1zM454 438h1v1h-1zM455 17h1v6h-1zM455 38h1v1h-1zM455 438h1v1h-1zM456 17h1v6h-1zM456 38h1v1h-1zM456 438h1v1h-1zM456 449h1v2h-1zM456 454h1v2h-1zM457 17h1v1h-1zM457 38h1v1h-1zM457 52h1v1h-1zM457 438h1v1h-1zM457 448h1v3h-1zM457 453h1v3h-1zM458 17h1v1h-1zM458 38h1v1h-1zM458 44h1v1h-1zM458 52h1v1h-1zM458 438h1v1h-1zM458 448h1v1h-1zM458 452h1v2h-1zM458 455h1v1h-1zM459 17h1v6h-1zM459 38h1v1h-1zM459 44h1v9h-1zM459 438h1v1h-1zM459 448h1v1h-1zM459 451h1v2h-1zM459 455h1v1h-1zM460 18h1v5h-1zM460 38h1v1h-1zM460 44h1v9h-1zM460 438h1v1h-1zM460 448h1v5h-1zM460 455h1v1h-1zM461 38h1v1h-1zM461 52h1v1h-1zM461 438h1v1h-1zM461 449h1v3h-1zM461 455h1v1h-1zM462 38h1v1h-1zM462 52h1v1h-1zM462 438h1v1h-1zM463 38h1v5h-1zM463 434h1v5h-1zM463 448h1v4h-1zM463 454h1v1h-1zM464 38h1v1h-1zM464 48h1v4h-1zM464 438h1v1h-1zM464 448h1v4h-1zM464 454h1v2h-1zM465 38h1v1h-1zM465 47h1v6h-1zM465 438h1v1h-1zM465 448h1v1h-1zM465 450h1v1h-1zM465 455h1v1h-1zM466 38h1v1h-1zM466 47h1v1h-1zM466 52h1v1h-1zM466 438h1v1h-1zM466 448h1v1h-1zM466 450h1v1h-1zM466 455h1v1h-1zM467 38h1v1h-1zM467 47h1v1h-1zM467 52h1v1h-1zM467 438h1v1h-1zM467 448h1v1h-1zM467 450h1v6h-1zM468 38h1v1h-1zM468 47h1v6h-1zM468 438h1v1h-1zM468 448h1v1h-1zM468 451h1v4h-1zM469 38h1v1h-1zM469 48h1v4h-1zM469 438h1v1h-1zM470 38h1v1h-1zM470 438h1v1h-1zM470 449h1v6h-1zM471 38h1v1h-1zM471 48h1v4h-1zM471 438h1v1h-1zM471 448h1v8h-1zM472 38h1v1h-1zM472 47h1v6h-1zM472 438h1v1h-1zM472 448h1v1h-1zM472 452h1v1h-1zM472 455h1v1h-1zM473 38h1v1h-1zM473 47h1v1h-1zM473 52h1v1h-1zM473 438h1v1h-1zM473 448h1v1h-1zM473 451h1v1h-1zM473 455h1v1h-1zM474 38h1v1h-1zM474 47h1v1h-1zM474 52h1v1h-1zM474 438h1v1h-1zM474 448h1v8h-1zM475 38h1v1h-1zM475 47h1v2h-1zM475 51h1v2h-1zM475 438h1v1h-1zM475 449h1v6h-1zM476 38h1v1h-1zM476 48h1v1h-1zM476 51h1v1h-1zM476 438h1v1h-1zM477 38h1v1h-1zM477 438h1v1h-1zM478 38h1v1h-1zM478 50h1v2h-1zM478 438h1v1h-1zM479 38h1v1h-1zM479 47h1v1h-1zM479 49h1v4h-1zM479 438h1v1h-1zM480 38h1v1h-1zM480 47h1v1h-1zM480 49h1v1h-1zM480 52h1v1h-1zM480 438h1v1h-1zM481 38h1v1h-1zM481 47h1v1h-1zM481 49h1v1h-1zM481 52h1v1h-1zM481 438h1v1h-1zM482 38h1v1h-1zM482 47h1v6h-1zM482 438h1v1h-1zM483 38h1v1h-1zM483 48h1v5h-1zM483 438h1v1h-1zM484 38h1v1h-1zM484 438h1v1h-1zM485 38h1v1h-1zM485 52h1v1h-1zM485 438h1v1h-1zM486 38h1v1h-1zM486 44h1v1h-1zM486 52h1v1h-1zM486 438h1v1h-1zM487 38h1v1h-1zM487 44h1v9h-1zM487 438h1v1h-1zM488 38h1v1h-1zM488 44h1v9h-1zM488 438h1v1h-1zM489 38h1v1h-1zM489 52h1v1h-1zM489 438h1v1h-1zM490 38h1v1h-1zM490 52h1v1h-1zM490 438h1v1h-1zM491 38h1v1h-1zM491 438h1v1h-1zM492 38h1v1h-1zM492 438h1v1h-1zM493 38h1v1h-1zM493 52h1v1h-1zM493 438h1v1h-1zM494 38h1v1h-1zM494 51h1v3h-1zM494 438h1v1h-1zM495 38h1v1h-1zM495 51h1v3h-1zM495 438h1v1h-1zM496 38h1v1h-1zM496 52h1v1h-1zM496 438h1v1h-1zM497 38h1v1h-1zM497 438h1v1h-1zM498 38h1v1h-1zM498 438h1v1h-1zM499 38h1v1h-1zM499 48h1v4h-1zM499 438h1v1h-1zM500 38h1v1h-1zM500 47h1v6h-1zM500 438h1v1h-1zM501 38h1v1h-1zM501 47h1v1h-1zM501 52h1v1h-1zM501 438h1v1h-1zM502 38h1v1h-1zM502 47h1v1h-1zM502 52h1v1h-1zM502 438h1v1h-1zM503 38h1v1h-1zM503 44h1v9h-1zM503 438h1v1h-1zM504 38h1v1h-1zM504 44h1v9h-1zM504 438h1v1h-1zM505 38h1v1h-1zM505 438h1v1h-1zM506 38h1v1h-1zM506 50h1v2h-1zM506 438h1v1h-1zM507 38h1v1h-1zM507 47h1v1h-1zM507 49h1v4h-1zM507 438h1v1h-1zM508 38h1v1h-1zM508 47h1v1h-1zM508 49h1v1h-1zM508 52h1v1h-1zM508 438h1v1h-1zM509 38h1v1h-1zM509 47h1v1h-1zM509 49h1v1h-1zM509 52h1v1h-1zM509 438h1v1h-1zM510 38h1v1h-1zM510 47h1v6h-1zM510 438h1v1h-1zM511 38h1v1h-1zM511 48h1v5h-1zM511 438h1v1h-1zM512 38h1v1h-1zM512 438h1v1h-1zM513 38h1v1h-1zM513 47h1v1h-1zM513 438h1v1h-1zM514 38h1v1h-1zM514 45h1v7h-1zM514 438h1v1h-1zM515 38h1v1h-1zM515 45h1v8h-1zM515 438h1v1h-1zM516 38h1v1h-1zM516 47h1v1h-1zM516 52h1v1h-1zM516 438h1v1h-1zM517 38h1v1h-1zM517 47h1v1h-1zM517 51h1v2h-1zM517 438h1v1h-1zM518 38h1v1h-1zM518 51h1v1h-1zM518 438h1v1h-1zM519 38h1v1h-1zM519 438h1v1h-1zM520 38h1v1h-1zM520 438h1v1h-1zM521 38h1v1h-1zM521 47h1v1h-1zM521 438h1v1h-1zM522 38h1v1h-1zM522 44h1v4h-1zM522 438h1v1h-1zM523 38h1v1h-1zM523 44h1v3h-1zM523 438h1v1h-1zM524 38h1v1h-1zM524 44h1v2h-1zM524 438h1v1h-1zM525 38h1v1h-1zM525 438h1v1h-1zM526 38h1v1h-1zM526 438h1v1h-1zM527 38h1v1h-1zM527 438h1v1h-1zM528 38h1v1h-1zM528 438h1v1h-1zM529 38h1v1h-1zM529 438h1v1h-1zM530 38h1v1h-1zM530 438h1v1h-1zM531 38h1v1h-1zM531 438h1v1h-1zM532 38h1v1h-1zM532 438h1v1h-1zM533 38h1v1h-1zM533 438h1v1h-1zM534 38h1v1h-1zM534 47h1v5h-1zM534 438h1v1h-1zM535 38h1v1h-1zM535 47h1v6h-1zM535 438h1v1h-1zM535 449h1v1h-1zM535 454h1v1h-1zM536 38h1v1h-1zM536 52h1v1h-1zM536 438h1v1h-1zM536 448h1v2h-1zM536 451h1v1h-1zM536 454h1v2h-1zM537 38h1v1h-1zM537 52h1v1h-1zM537 438h1v1h-1zM537 448h1v1h-1zM537 451h1v1h-1zM537 455h1v1h-1zM538 38h1v1h-1zM538 47h1v6h-1zM538 438h1v1h-1zM538 448h1v1h-1zM538 451h1v1h-1zM538 455h1v1h-1zM539 38h1v1h-1zM539 47h1v6h-1zM539 438h1v1h-1zM539 448h1v8h-1zM540 38h1v1h-1zM540 438h1v1h-1zM540 449h1v2h-1zM540 452h1v3h-1zM541 38h1v1h-1zM541 438h1v1h-1zM542 38h1v5h-1zM542 434h1v5h-1zM542 449h1v6h-1zM543 38h1v1h-1zM543 438h1v1h-1zM543 448h1v8h-1zM544 38h1v1h-1zM544 438h1v1h-1zM544 448h1v1h-1zM544 452h1v1h-1zM544 455h1v1h-1zM545 38h1v1h-1zM545 438h1v1h-1zM545 448h1v1h-1zM545 451h1v1h-1zM545 455h1v1h-1zM546 38h1v1h-1zM546 438h1v1h-1zM546 448h1v8h-1zM547 38h1v1h-1zM547 438h1v1h-1zM547 449h1v6h-1zM548 38h1v1h-1zM548 47h1v1h-1zM548 52h1v1h-1zM548 438h1v1h-1zM549 38h1v1h-1zM549 46h1v1h-1zM549 52h1v1h-1zM549 438h1v1h-1zM549 449h1v6h-1zM550 38h1v1h-1zM550 45h1v8h-1zM550 438h1v1h-1zM550 448h1v8h-1zM551 38h1v1h-1zM551 45h1v8h-1zM551 438h1v1h-1zM551 448h1v1h-1zM551 452h1v1h-1zM551 455h1v1h-1zM552 38h1v1h-1zM552 52h1v1h-1zM552 438h1v1h-1zM552 448h1v1h-1zM552 451h1v1h-1zM552 455h1v1h-1zM553 38h1v1h-1zM553 52h1v1h-1zM553 438h1v1h-1zM553 448h1v8h-1zM554 38h1v1h-1zM554 438h1v1h-1zM554 449h1v6h-1zM555 38h1v1h-1zM555 438h1v1h-1zM556 38h1v1h-1zM556 47h1v1h-1zM556 52h1v1h-1zM556 438h1v1h-1zM557 38h1v1h-1zM557 46h1v3h-1zM557 51h1v3h-1zM557 438h1v1h-1zM558 38h1v1h-1zM558 46h1v3h-1zM558 51h1v3h-1zM558 438h1v1h-1zM559 38h1v1h-1zM559 47h1v1h-1zM559 52h1v1h-1zM559 438h1v1h-1zM560 38h1v1h-1zM560 438h1v1h-1zM561 38h1v1h-1zM561 438h1v1h-1zM562 38h1v1h-1zM562 46h1v2h-1zM562 51h1v2h-1zM562 438h1v1h-1zM563 38h1v1h-1zM563 45h1v3h-1zM563 50h1v3h-1zM563 438h1v1h-1zM564 38h1v1h-1zM564 45h1v1h-1zM564 49h1v2h-1zM564 52h1v1h-1zM564 438h1v1h-1zM565 38h1v1h-1zM565 45h1v1h-1zM565 48h1v2h-1zM565 52h1v1h-1zM565 438h1v1h-1zM566 38h1v1h-1zM566 45h1v5h-1zM566 52h1v1h-1zM566 438h1v1h-1zM567 38h1v1h-1zM567 46h1v3h-1zM567 52h1v1h-1zM567 438h1v1h-1zM568 38h1v1h-1zM568 438h1v1h-1zM569 38h1v1h-1zM569 438h1v1h-1zM570 38h1v1h-1zM570 438h1v1h-1zM571 38h1v1h-1zM571 438h1v1h-1zM572 38h1v1h-1zM572 438h1v1h-1zM573 38h1v1h-1zM573 438h1v1h-1zM574 38h1v1h-1zM574 438h1v1h-1zM575 38h1v1h-1zM575 438h1v1h-1zM576 38h1v1h-1zM576 438h1v1h-1zM577 38h1v1h-1zM577 438h1v1h-1zM578 38h1v1h-1zM578 438h1v1h-1zM579 38h1v1h-1zM579 438h1v1h-1zM580 38h1v1h-1zM580 438h1v1h-1zM581 38h1v1h-1zM581 438h1v1h-1zM582 38h1v1h-1zM582 438h1v1h-1zM583 38h1v1h-1zM583 438h1v1h-1zM584 38h1v1h-1zM584 438h1v1h-1zM585 38h1v1h-1zM585 438h1v1h-1zM586 38h1v1h-1zM586 438h1v1h-1zM587 38h1v1h-1zM587 438h1v1h-1zM588 38h1v1h-1zM588 438h1v1h-1zM589 38h1v1h-1zM589 438h1v1h-1zM590 38h1v1h-1zM590 438h1v1h-1zM591 38h1v1h-1zM591 438h1v1h-1zM592 38h1v1h-1zM592 438h1v1h-1zM593 38h1v1h-1zM593 438h1v1h-1zM594 38h1v1h-1zM594 438h1v1h-1zM595 38h1v1h-1zM595 438h1v1h-1zM596 38h1v1h-1zM596 438h1v1h-1zM597 38h1v1h-1zM597 438h1v1h-1zM598 38h1v1h-1zM598 438h1v1h-1zM599 38h1v1h-1zM599 438h1v1h-1zM600 38h1v1h-1zM600 438h1v1h-1zM601 38h1v1h-1zM601 438h1v1h-1zM602 38h1v1h-1zM602 438h1v1h-1zM603 38h1v1h-1zM603 438h1v1h-1zM604 38h1v1h-1zM604 438h1v1h-1zM605 38h1v1h-1zM605 438h1v1h-1zM606 38h1v1h-1zM606 438h1v1h-1zM607 38h1v1h-1zM607 438h1v1h-1zM608 38h1v1h-1zM608 438h1v1h-1zM609 38h1v1h-1zM609 438h1v1h-1zM610 38h1v1h-1zM610 438h1v1h-1zM611 38h1v1h-1zM611 438h1v1h-1zM612 38h1v1h-1zM612 438h1v1h-1zM613 38h1v1h-1zM613 438h1v1h-1zM614 38h1v1h-1zM614 438h1v1h-1zM615 38h1v1h-1zM615 438h1v1h-1zM615 449h1v1h-1zM615 454h1v1h-1zM616 38h1v1h-1zM616 438h1v1h-1zM616 448h1v2h-1zM616 451h1v1h-1zM616 454h1v2h-1zM617 38h1v1h-1zM617 438h1v1h-1zM617 448h1v1h-1zM617 451h1v1h-1zM617 455h1v1h-1zM618 38h1v1h-1zM618 88h1v1h-1zM618 138h1v1h-1zM618 188h1v1h-1zM618 238h1v1h-1zM618 288h1v1h-1zM618 338h1v1h-1zM618 388h1v1h-1zM618 438h1v1h-1zM618 448h1v1h-1zM618 451h1v1h-1zM618 455h1v1h-1zM619 38h1v1h-1zM619 88h1v1h-1zM619 138h1v1h-1zM619 188h1v1h-1zM619 238h1v1h-1zM619 288h1v1h-1zM619 338h1v1h-1zM619 388h1v1h-1zM619 438h1v1h-1zM619 448h1v8h-1zM620 38h1v1h-1zM620 88h1v1h-1zM620 138h1v1h-1zM620 188h1v1h-1zM620 238h1v1h-1zM620 288h1v1h-1zM620 338h1v1h-1zM620 388h1v1h-1zM620 438h1v1h-1zM620 449h1v2h-1zM620 452h1v3h-1zM621 38h1v1h-1zM621 88h1v1h-1zM621 138h1v1h-1zM621 188h1v1h-1zM621 238h1v1h-1zM621 288h1v1h-1zM621 338h1v1h-1zM621 388h1v1h-1zM621 438h1v1h-1zM622 38h1v401h-1zM622 448h1v4h-1zM622 454h1v1h-1zM623 448h1v4h-1zM623 454h1v2h-1zM624 448h1v1h-1zM624 450h1v1h-1zM624 455h1v1h-1zM625 448h1v1h-1zM625 450h1v1h-1zM625 455h1v1h-1zM626 448h1v1h-1zM626 450h1v6h-1zM627 448h1v1h-1zM627 451h1v4h-1zM629 449h1v6h-1zM630 448h1v8h-1zM631 448h1v1h-1zM631 452h1v1h-1zM631 455h1v1h-1zM632 448h1v1h-1zM632 451h1v1h-1zM632 455h1v1h-1zM633 448h1v8h-1zM634 449h1v6h-1z"/>

<path fill="#f00" d="M67 183h1v2h-1zM68 185h1v27h-1zM69 212h1v52h-1zM70 264h1v47h-1zM71 311h1v34h-1zM72 345h1v27h-1zM73 372h1v22h-1zM74 394h1v18h-1zM75 412h1v10h-1zM76 417h1v2h-1zM77 418h1v1h-1zM78 417h1v2h-1zM79 415h1v2h-1zM80 416h1v1h-1zM81 417h1v1h-1zM82 418h1v2h-1zM83 420h1v1h-1zM84 421h1v1h-1zM85 422h1v2h-1zM86 423h1v2h-1zM87 414h1v9h-1zM88 404h1v10h-1zM89 390h1v14h-1zM90 372h1v18h-1zM91 364h1v8h-1zM92 355h1v9h-1zM93 345h1v10h-1zM94 340h1v8h-1zM95 348h1v11h-1zM96 359h1v6h-1zM97 365h1v12h-1zM98 375h1v11h-1zM99 353h1v22h-1zM100 342h1v11h-1zM101 343h1v2h-1zM102 343h1v3h-1zM103 340h1v3h-1zM104 341h1v2h-1zM105 343h1v6h-1zM106 349h1v5h-1zM107 354h1v2h-1zM108 356h1v7h-1zM109 344h1v12h-1zM110 338h1v6h-1zM111 340h1v9h-1zM112 324h1v16h-1zM113 315h1v9h-1zM114 324h1v12h-1zM115 336h1v6h-1zM116 339h1v7h-1zM117 325h1v14h-1zM118 314h1v11h-1zM119 307h1v7h-1zM120 301h1v6h-1zM121 296h1v5h-1zM122 293h1v3h-1zM123 292h1v1h-1zM124 291h1v1h-1zM125 288h1v4h-1zM126 280h1v8h-1zM127 267h1v13h-1zM128 248h1v19h-1zM129 233h1v15h-1zM130 228h1v15h-1zM131 243h1v30h-1zM132 273h1v25h-1zM133 298h1v12h-1zM134 310h1v4h-1zM135 310h1v7h-1zM136 298h1v12h-1zM137 292h1v20h-1zM138 312h1v34h-1zM139 346h1v25h-1zM140 371h1v16h-1zM141 387h1v4h-1zM142 391h1v4h-1zM143 395h1v6h-1zM144 401h1v5h-1zM145 406h1v1h-1zM146 407h1v2h-1zM147 409h1v2h-1zM148 411h1v2h-1zM149 410h1v2h-1zM150 408h1v2h-1zM151 407h1v2h-1zM152 409h1v3h-1zM153 412h1v2h-1zM154 414h1v2h-1zM155 416h1v2h-1zM156 418h1v1h-1zM157 418h1v1h-1zM158 418h1v1h-1zM159 418h1v1h-1zM160 417h1v1h-1zM161 416h1v1h-1zM162 415h1v2h-1zM163 417h1v2h-1zM164 419h1v2h-1zM165 411h1v8h-1zM166 410h1v1h-1zM167 409h1v4h-1zM168 413h1v5h-1zM169 418h1v3h-1zM170 419h1v2h-1zM171 410h1v9h-1zM172 399h1v11h-1zM173 392h1v7h-1zM174 393h1v1h-1zM175 394h1v7h-1zM176 401h1v7h-1zM177 408h1v1h-1zM178 409h1v2h-1zM179 409h1v1h-1zM180 408h1v1h-1zM181 406h1v2h-1zM182 403h1v3h-1zM183 402h1v8h-1zM184 410h1v8h-1zM185 418h1v4h-1zM186 422h1v2h-1zM187 414h1v8h-1zM188 409h1v5h-1zM189 409h1v1h-1zM190 409h1v1h-1zM191 409h1v1h-1zM192 410h1v3h-1zM193 413h1v7h-1zM194 420h1v3h-1zM195 422h1v2h-1zM196 421h1v1h-1zM197 420h1v2h-1zM198 422h1v2h-1zM199 423h1v3h-1zM200 421h1v2h-1zM201 422h1v2h-1zM202 424h1v2h-1zM203 426h1v1h-1zM204 427h1v1h-1zM205 427h1v1h-1zM206 426h1v1h-1zM207 425h1v1h-1zM208 425h1v1h-1zM209 424h1v1h-1zM210 423h1v2h-1zM211 425h1v3h-1zM212 427h1v1h-1zM213 428h1v1h-1zM214 428h1v1h-1zM215 428h1v1h-1zM216 428h1v1h-1zM217 427h1v1h-1zM218 427h1v1h-1zM219 427h1v1h-1zM220 428h1v1h-1zM221 427h1v2h-1zM222 425h1v2h-1zM223 420h1v5h-1zM224 412h1v8h-1zM225 402h1v10h-1zM226 392h1v10h-1zM227 385h1v7h-1zM228 383h1v2h-1zM229 381h1v6h-1zM230 387h1v10h-1zM231 397h1v10h-1zM232 407h1v7h-1zM233 414h1v4h-1zM234 418h1v4h-1zM235 422h1v4h-1zM236 425h1v1h-1zM237 425h1v1h-1zM238 425h1v1h-1zM239 424h1v1h-1zM240 424h1v1h-1zM241 424h1v1h-1zM242 424h1v1h-1zM243 424h1v1h-1zM244 423h1v1h-1zM245 423h1v1h-1zM246 424h1v1h-1zM247 423h1v1h-1zM248 422h1v1h-1zM249 423h1v1h-1zM250 422h1v3h-1zM251 419h1v3h-1zM252 416h1v3h-1zM253 414h1v2h-1zM254 412h1v2h-1zM255 410h1v2h-1zM256 407h1v3h-1zM257 400h1v7h-1zM258 387h1v13h-1zM259 374h1v13h-1zM260 367h1v7h-1zM261 363h1v7h-1zM262 370h1v9h-1zM263 379h1v6h-1zM264 385h1v5h-1zM265 390h1v4h-1zM266 394h1v10h-1zM267 404h1v3h-1zM268 407h1v5h-1zM269 412h1v3h-1zM270 414h1v1h-1zM271 415h1v1h-1zM272 412h1v4h-1zM273 409h1v3h-1zM274 412h1v6h-1zM275 418h1v3h-1zM276 421h1v1h-1zM277 422h1v2h-1zM278 424h1v2h-1zM279 422h1v2h-1zM280 421h1v1h-1zM281 422h1v1h-1zM282 422h1v1h-1zM283 423h1v1h-1zM284 422h1v1h-1zM285 421h1v1h-1zM286 420h1v1h-1zM287 419h1v1h-1zM288 418h1v1h-1zM289 419h1v1h-1zM290 420h1v2h-1zM291 421h1v2h-1zM292 419h1v2h-1zM293 418h1v1h-1zM294 417h1v1h-1zM295 416h1v1h-1zM296 414h1v3h-1zM297 408h1v6h-1zM298 402h1v6h-1zM299 388h1v14h-1zM300 368h1v20h-1zM301 358h1v11h-1zM302 369h1v12h-1zM303 358h1v15h-1zM304 347h1v11h-1zM305 344h1v3h-1zM306 342h1v2h-1zM307 341h1v1h-1zM308 339h1v2h-1zM309 337h1v2h-1zM310 329h1v11h-1zM311 340h1v20h-1zM312 360h1v11h-1zM313 371h1v1h-1zM314 371h1v1h-1zM315 362h1v9h-1zM316 349h1v13h-1zM317 340h1v9h-1zM318 328h1v12h-1zM319 316h1v12h-1zM320 305h1v11h-1zM321 299h1v12h-1zM322 311h1v29h-1zM323 340h1v8h-1zM324 348h1v7h-1zM325 355h1v7h-1zM326 362h1v8h-1zM327 370h1v13h-1zM328 383h1v8h-1zM329 391h1v3h-1zM330 394h1v5h-1zM331 399h1v5h-1zM332 404h1v5h-1zM333 407h1v1h-1zM334 401h1v6h-1zM335 391h1v10h-1zM336 386h1v14h-1zM337 400h1v15h-1zM338 414h1v1h-1zM339 412h1v2h-1zM340 411h1v1h-1zM341 412h1v1h-1zM342 409h1v5h-1zM343 405h1v4h-1zM344 404h1v1h-1zM345 397h1v7h-1zM346 383h1v14h-1zM347 375h1v8h-1zM348 378h1v3h-1zM349 377h1v2h-1zM350 375h1v2h-1zM351 374h1v3h-1zM352 377h1v9h-1zM353 386h1v6h-1zM354 392h1v5h-1zM355 395h1v6h-1zM356 390h1v5h-1zM357 393h1v6h-1zM358 399h1v5h-1zM359 404h1v3h-1zM360 403h1v2h-1zM361 402h1v1h-1zM362 403h1v2h-1zM363 405h1v1h-1zM364 405h1v2h-1zM365 402h1v3h-1zM366 397h1v5h-1zM367 389h1v8h-1zM368 387h1v2h-1zM369 386h1v1h-1zM370 384h1v2h-1zM371 377h1v7h-1zM372 362h1v15h-1zM373 340h1v22h-1zM374 311h1v29h-1zM375 292h1v19h-1zM376 290h1v2h-1zM377 289h1v2h-1zM378 291h1v12h-1zM379 303h1v2h-1zM380 305h1v2h-1zM381 303h1v2h-1zM382 303h1v2h-1zM383 305h1v9h-1zM384 314h1v8h-1zM385 322h1v9h-1zM386 331h1v19h-1zM387 350h1v26h-1zM388 376h1v15h-1zM389 391h1v11h-1zM390 402h1v4h-1zM391 406h1v5h-1zM392 411h1v6h-1zM393 417h1v6h-1zM394 423h1v3h-1zM395 424h1v1h-1zM396 424h1v1h-1zM397 424h1v1h-1zM398 424h1v1h-1zM399 425h1v1h-1zM400 426h1v1h-1zM401 426h1v1h-1zM402 426h1v2h-1zM403 423h1v3h-1zM404 421h1v2h-1zM405 419h1v2h-1zM406 418h1v1h-1zM407 419h1v2h-1zM408 417h1v2h-1zM409 415h1v2h-1zM410 413h1v2h-1zM411 411h1v2h-1zM412 398h1v13h-1zM413 380h1v18h-1zM414 360h1v20h-1zM415 339h1v21h-1zM416 329h1v10h-1zM417 305h1v24h-1zM418 264h1v41h-1zM419 219h1v45h-1zM420 173h1v46h-1zM421 148h1v25h-1zM422 155h1v23h-1zM423 166h1v11h-1zM424 143h1v23h-1zM425 120h1v23h-1zM426 107h1v13h-1zM427 106h1v1h-1zM428 107h1v2h-1zM429 109h1v3h-1zM430 112h1v1h-1zM431 112h1v2h-1zM432 109h1v3h-1zM433 107h1v2h-1zM434 109h1v5h-1zM435 114h1v7h-1zM436 117h1v8h-1zM437 110h1v9h-1zM438 119h1v16h-1zM439 135h1v9h-1zM440 117h1v18h-1zM441 108h1v14h-1zM442 122h1v18h-1zM443 140h1v9h-1zM444 149h1v5h-1zM445 154h1v1h-1zM446 155h1v6h-1zM447 161h1v9h-1zM448 170h1v12h-1zM449 168h1v20h-1zM450 149h1v19h-1zM451 151h1v11h-1zM452 162h1v5h-1zM453 167h1v9h-1zM454 176h1v15h-1zM455 191h1v13h-1zM456 194h1v14h-1zM457 176h1v18h-1zM458 166h1v14h-1zM459 180h1v27h-1zM460 207h1v18h-1zM461 225h1v8h-1zM462 233h1v2h-1zM463 235h1v42h-1zM464 277h1v40h-1zM465 311h1v3h-1zM466 309h1v2h-1zM467 310h1v4h-1zM468 303h1v7h-1zM469 299h1v12h-1zM470 311h1v25h-1zM471 336h1v15h-1zM472 351h1v5h-1zM473 356h1v1h-1zM474 357h1v5h-1zM475 362h1v11h-1zM476 373h1v10h-1zM477 383h1v8h-1zM478 391h1v6h-1zM479 397h1v6h-1zM480 403h1v1h-1zM481 402h1v1h-1zM482 401h1v2h-1zM483 403h1v3h-1zM484 406h1v3h-1zM485 405h1v2h-1zM486 403h1v2h-1zM487 401h1v2h-1zM488 399h1v2h-1zM489 401h1v2h-1zM490 403h1v2h-1zM491 399h1v4h-1zM492 394h1v5h-1zM493 391h1v3h-1zM494 392h1v1h-1zM495 391h1v2h-1zM496 387h1v4h-1zM497 383h1v4h-1zM498 378h1v5h-1zM499 374h1v4h-1zM500 371h1v3h-1zM501 368h1v3h-1zM502 367h1v2h-1zM503 369h1v6h-1zM504 375h1v5h-1zM505 378h1v1h-1zM506 378h1v11h-1zM507 389h1v11h-1zM508 390h1v6h-1zM509 386h1v5h-1zM510 391h1v10h-1zM511 401h1v5h-1zM512 400h1v3h-1zM513 401h1v2h-1zM514 403h1v3h-1zM515 406h1v6h-1zM516 412h1v6h-1zM517 418h1v4h-1zM518 419h1v2h-1zM519 417h1v2h-1zM520 416h1v1h-1zM521 417h1v1h-1zM522 415h1v3h-1zM523 412h1v3h-1zM524 410h1v2h-1zM525 408h1v2h-1zM526 408h1v1h-1zM527 404h1v5h-1zM528 399h1v5h-1zM529 398h1v1h-1zM530 398h1v1h-1zM531 396h1v2h-1zM532 392h1v4h-1zM533 389h1v3h-1zM534 387h1v2h-1zM535 388h1v2h-1zM536 390h1v7h-1zM537 397h1v12h-1zM538 409h1v8h-1zM539 417h1v3h-1zM540 420h1v1h-1zM541 421h1v1h-1zM542 422h1v1h-1zM543 421h1v1h-1zM544 421h1v1h-1zM545 421h1v1h-1zM546 421h1v1h-1zM547 422h1v2h-1zM548 424h1v2h-1zM549 426h1v2h-1zM550 422h1v4h-1zM551 418h1v4h-1zM552 414h1v4h-1zM553 411h1v3h-1zM554 409h1v2h-1zM555 408h1v1h-1zM556 407h1v1h-1zM557 406h1v1h-1zM558 405h1v2h-1zM559 407h1v4h-1zM560 411h1v3h-1zM561 413h1v1h-1zM562 413h1v1h-1zM563 413h1v1h-1zM564 414h1v2h-1zM565 416h1v3h-1zM566 419h1v2h-1zM567 419h1v1h-1zM568 418h1v2h-1zM569 417h1v1h-1zM570 418h1v2h-1zM571 420h1v2h-1zM572 420h1v1h-1zM573 416h1v4h-1zM574 411h1v5h-1zM575 403h1v8h-1zM576 391h1v12h-1zM577 384h1v7h-1zM578 382h1v2h-1zM579 380h1v2h-1zM580 382h1v4h-1zM581 378h1v11h-1zM582 361h1v17h-1zM583 349h1v12h-1zM584 324h1v25h-1zM585 301h1v23h-1zM586 293h1v8h-1zM587 275h1v18h-1zM588 248h1v27h-1zM589 153h1v95h-1zM590 71h1v82h-1z"/>
<path fill="#f00" d="M576 48h33v1h-33z"/>
</svg>
</body></html>
